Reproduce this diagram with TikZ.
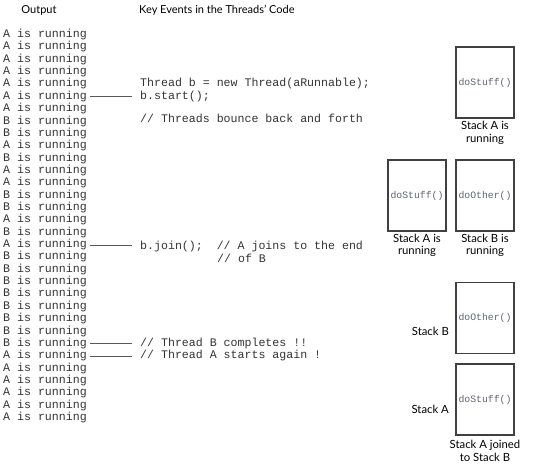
\documentclass[tikz,border=0pt]{standalone}
\usepackage{fontspec}
\setmainfont{Lato}
\newfontfamily\codefont{Liberation Mono}
\definecolor{boxtext}{RGB}{95,100,112}
\begin{document}
\begin{tikzpicture}[x=1pt,y=-1pt,
  outline/.style={font=\codefont\fontsize{11.6}{12}\selectfont, color=black!80, inner sep=0pt, anchor=base west, text height=7pt, text depth=2pt},
  codeline/.style={outline},
  hdr/.style={font=\fontsize{11}{13}\selectfont, inner sep=0pt},
  conn/.style={draw=black!65, line width=1.1pt},
  stackbox/.style={draw=black!75, line width=1.1pt, minimum width=58pt, minimum height=71pt, inner sep=0pt,
     font=\codefont\fontsize{9.8}{10}\selectfont, text=boxtext},
  lbl/.style={font=\fontsize{11.3}{12.5}\selectfont, inner sep=0pt, align=center}
]
\useasboundingbox (0,0) rectangle (537,470);
% headers
\node[hdr] (hout) at (39,10) {Output};
\node[hdr, anchor=west] (hkey) at (139,10) {Key Events in the Threads' Code};
% output lines
\foreach \i/\t in {1/A,2/A,3/A,4/A,5/A,6/A,7/A,8/B,9/B,10/A,11/B,12/A,13/A,14/B,15/B,16/A,17/B,18/A,19/B,20/B,21/B,22/B,23/B,24/B,25/B,26/B,27/A,28/A,29/A,30/A,31/A,32/A}{
  \node[outline] (o\i) at (3,{34+(\i-1)*12.35+3.6}) {\t{} is running};
}
% code
\node[codeline] (thr) at (140,{83+3.6}) {Thread b = new Thread(aRunnable);};
\node[codeline] (bstart) at (140,{96+3.6}) {b.start();};
\node[codeline] (bounce) at (140,{119+3.6}) {// Threads bounce back and forth};
\node[codeline] (bjoin) at (140,{246+3.6}) {b.join();\ \ // A joins to the end};
\node[codeline] (ofb) at (217,{259+3.6}) {// of B};
\node[codeline] (bcomp) at (140,{342.5+3.6}) {// Thread B completes !!};
\node[codeline] (astart) at (140,{355+3.6}) {// Thread A starts again !};
% connectors
\draw[conn, shorten <=3pt, shorten >=8pt] (o6.east) -- (o6.east -| bstart.west);
\draw[conn, shorten <=3pt, shorten >=8pt] (o18.east) -- (o18.east -| bjoin.west);
\draw[conn, shorten <=3pt, shorten >=8pt] (o26.east) -- (o26.east -| bcomp.west);
\draw[conn, shorten <=3pt, shorten >=8pt] (o27.east) -- (o27.east -| astart.west);
% stacks
\node[stackbox] (s1) at (485,82.5) {doStuff()};
\node[lbl, anchor=north] (l1) at (485,121) {Stack A is\\running};
\node[stackbox] (s2) at (417,195.5) {doStuff()};
\node[stackbox] (s3) at (485,195.5) {doOther()};
\node[lbl, anchor=north] (l2) at (417,233.5) {Stack A is\\running};
\node[lbl, anchor=north] (l3) at (485,233.5) {Stack B is\\running};
\node[stackbox] (s4) at (485,318) {doOther()};
\node[lbl, anchor=east] (l4) at (449,331) {Stack B};
\node[stackbox] (s5) at (485,399.5) {doStuff()};
\node[lbl, anchor=east] (l5) at (449,409.5) {Stack A};
\node[lbl, anchor=north] (l6) at (485,440) {Stack A joined\\to Stack B};
\end{tikzpicture}
\end{document}
